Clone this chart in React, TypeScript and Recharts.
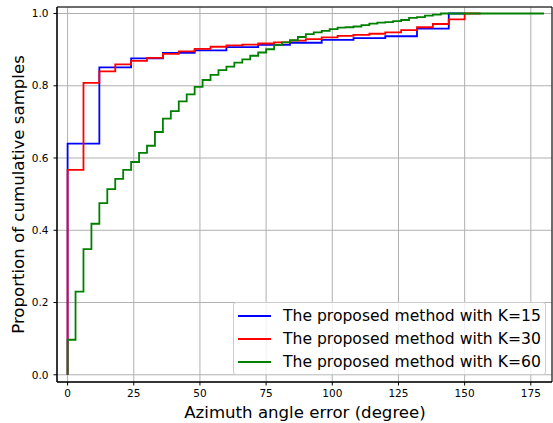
import {
  LineChart,
  Line,
  XAxis,
  YAxis,
  CartesianGrid,
  Legend,
  ReferenceArea,
} from 'recharts';

// K=15 (12 degree bins)
const k15Angles = [0, 0, 12, 24, 36, 48, 60, 72, 84, 96, 108, 120, 132, 144, 150];
const k15Values = [0, 0.64, 0.851, 0.876, 0.891, 0.898, 0.907, 0.913, 0.919, 0.927, 0.932, 0.937, 0.958, 1.0, 1.0];

// K=30 (6 degree bins)
const k30Angles = [0, 0, 6, 12, 18, 24, 30, 36, 42, 48, 54, 60, 66, 72, 78, 84, 90, 96, 102, 108, 114, 120, 126, 132, 138, 144, 150, 156];
const k30Values = [0, 0.567, 0.808, 0.84, 0.859, 0.869, 0.877, 0.888, 0.895, 0.902, 0.908, 0.912, 0.914, 0.917, 0.92, 0.925, 0.929, 0.934, 0.938, 0.941, 0.944, 0.948, 0.954, 0.962, 0.971, 0.984, 1.0, 1.0];

// K=60 (3 degree bins)
const k60Angles = [0, 0, 3, 6, 9, 12, 15, 18, 21, 24, 27, 30, 33, 36, 39, 42, 45, 48, 51, 54, 57, 60, 63, 66, 69, 72, 75, 78, 81, 84, 87, 90, 93, 96, 99, 102, 105, 108, 111, 114, 117, 120, 123, 126, 129, 132, 135, 138, 141, 180];
const k60Values = [0, 0.097, 0.23, 0.348, 0.418, 0.475, 0.514, 0.542, 0.567, 0.589, 0.614, 0.634, 0.672, 0.709, 0.73, 0.757, 0.776, 0.797, 0.816, 0.83, 0.843, 0.853, 0.864, 0.873, 0.883, 0.892, 0.901, 0.913, 0.92, 0.926, 0.935, 0.943, 0.948, 0.952, 0.957, 0.961, 0.962, 0.964, 0.968, 0.972, 0.975, 0.976, 0.979, 0.982, 0.988, 0.99, 0.994, 0.997, 1.0, 1.0];

const xTicks = [0, 25, 50, 75, 100, 125, 150, 175];
const yTicks = [0, 0.2, 0.4, 0.6, 0.8, 1.0];

const SERIES = [
  { name: 'The proposed method with K=15', color: '#0000ff', angles: k15Angles, values: k15Values },
  { name: 'The proposed method with K=30', color: '#ff0000', angles: k30Angles, values: k30Values },
  { name: 'The proposed method with K=60', color: '#008000', angles: k60Angles, values: k60Values },
];

const toPoints = (angles: number[], values: number[]) =>
  angles.map((x, i) => ({ x, y: values[i] }));

const FONT = '"DejaVu Sans", sans-serif';
const X_DOMAIN = [-4, 183];
const Y_DOMAIN = [-0.02, 1.018];

function LegendBox() {
  return (
    <div
      style={{
        width: 313,
        height: 73,
        background: 'rgba(255,255,255,0.8)',
        border: '1px solid #cccccc',
        borderRadius: 3,
        boxSizing: 'border-box',
        fontFamily: FONT,
        fontSize: 15.6,
        color: '#000',
        paddingTop: 1,
        textAlign: 'left',
        whiteSpace: 'nowrap',
      }}
    >
      {SERIES.map(s => (
        <div key={s.name} style={{ display: 'flex', alignItems: 'center', height: 23 }}>
          <span style={{ display: 'inline-block', width: 33, height: 2, background: s.color, marginLeft: 4, marginRight: 12 }} />
          <span>{s.name}</span>
        </div>
      ))}
    </div>
  );
}

export default function App() {
  return (
    <div style={{ position: 'absolute', left: 0, top: 0, width: 553, height: 423, background: '#fff' }}>
      <LineChart width={553} height={423} margin={{ top: 7, right: 1, left: 0, bottom: 0 }}>
        <CartesianGrid stroke="#b0b0b0" strokeWidth={1} />
        <XAxis
          dataKey="x"
          type="number"
          domain={X_DOMAIN}
          ticks={xTicks}
          allowDataOverflow
          height={41}
          tickSize={3.5}
          tickMargin={4}
          stroke="#000"
          tick={{ fill: '#000', fontSize: 10.5, fontFamily: FONT }}
          label={() => (
            <text x={305} y={418} textAnchor="middle" fontSize={16.6} fontFamily={FONT} fill="#000">
              Azimuth angle error (degree)
            </text>
          )}
        />
        <YAxis
          type="number"
          domain={Y_DOMAIN}
          ticks={yTicks}
          allowDataOverflow
          width={57}
          tickSize={3.5}
          tickMargin={5}
          stroke="#000"
          tickFormatter={(v: number) => v.toFixed(1)}
          tick={{ fill: '#000', fontSize: 10.5, fontFamily: FONT }}
          label={() => (
            <text
              x={18}
              y={194.5}
              transform="rotate(-90 18 194.5)"
              textAnchor="middle"
              dominantBaseline="central"
              fontSize={16.6}
              fontFamily={FONT}
              fill="#000"
            >
              Proportion of cumulative samples
            </text>
          )}
        />
        <ReferenceArea
          x1={X_DOMAIN[0]}
          x2={X_DOMAIN[1]}
          y1={Y_DOMAIN[0]}
          y2={Y_DOMAIN[1]}
          fill="none"
          fillOpacity={0}
          stroke="#000"
          strokeWidth={1}
          ifOverflow="extendDomain"
        />
        {SERIES.map(s => (
          <Line
            key={s.name}
            data={toPoints(s.angles, s.values)}
            dataKey="y"
            name={s.name}
            type="stepAfter"
            stroke={s.color}
            strokeWidth={1.8}
            dot={false}
            activeDot={false}
            isAnimationActive={false}
          />
        ))}
        <Legend
          layout="vertical"
          align="center"
          verticalAlign="middle"
          content={() => <LegendBox />}
          wrapperStyle={{ left: 233, top: 302, width: 313, height: 73, bottom: 'auto', right: 'auto' }}
        />
      </LineChart>
    </div>
  );
}
